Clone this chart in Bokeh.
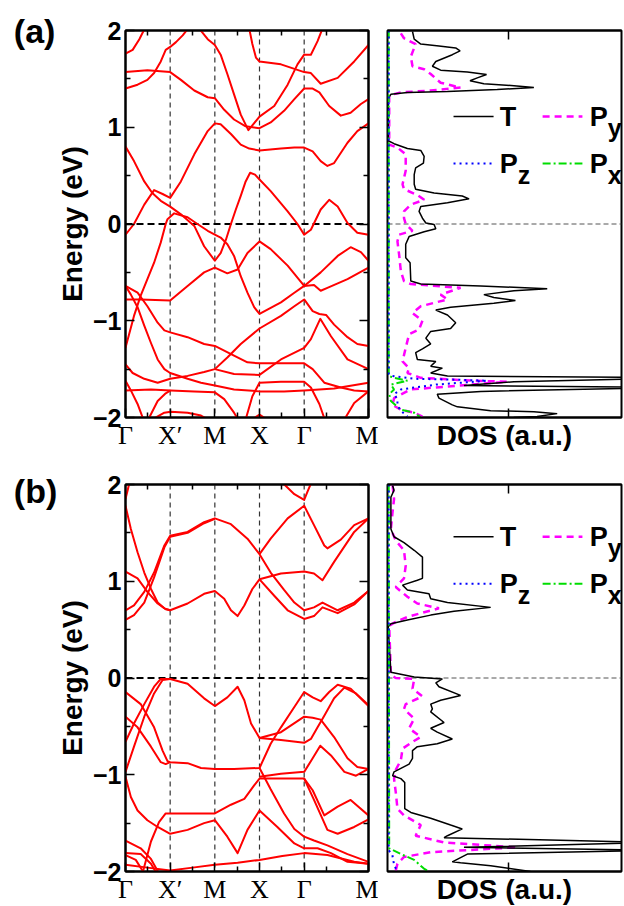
from bokeh.plotting import figure
from bokeh.models import Range1d, Span, Label, LinearAxis, FixedTicker
from bokeh.layouts import row, column
from bokeh.embed import file_html
from bokeh.resources import INLINE
from bokeh.core.properties import value

# ---------------- axes data ----------------
K_TICKS = [0.0, 1.0, 2.0, 3.0, 4.0, 5.44]
K_LABELS = ["Γ", "X′", "M", "X", "Γ", "M"]
K_MINOR = [0.5, 1.5, 2.5, 3.5, 4.5]
E_TICKS = [-2, -1, 0, 1, 2]
E_MINOR = [-1.5, -0.5, 0.5, 1.5]
DOS_TICKS = [5.0]
DOS_MAX = 9.64

# ---------------- band structure (a) ----------------
BANDS_A_K = [
    [0, 0.16, 0.31, 0.43],
    [0, 0.27, 0.49, 0.64, 0.79, 0.90, 1.0, 1.13, 1.28, 1.40],
    [1.65, 1.84, 2.0, 2.13, 2.28, 2.43, 2.58, 2.75, 2.84, 3.0, 3.33, 3.63, 3.85, 4.0, 4.15, 4.30, 4.41],
    [2.77, 2.84, 2.92, 3.0, 3.48, 4.0, 4.15, 4.37, 4.75, 5.12, 5.44],
    [0, 0.49, 1.0, 1.24, 1.54, 1.84, 2.0, 2.21, 2.43, 2.69, 3.0, 3.25, 3.55, 3.78, 4.0, 4.19, 4.34, 4.56, 4.82, 5.04, 5.27, 5.44],
    [0, 0.19, 0.42, 0.64, 0.83, 1.0, 1.24, 1.54, 1.84, 2.0, 2.13, 2.36, 2.58, 2.77, 3.0, 3.48, 3.78, 4.0, 4.19, 4.37, 4.52, 4.67, 4.97, 5.19, 5.44],
    [0, 0.19, 0.42, 0.60, 0.79, 1.0, 1.24, 1.54, 1.76, 2.0, 2.13, 2.25, 2.36, 2.47, 2.58, 2.69, 2.79, 2.90, 3.0, 3.25, 3.63, 3.85, 4.0, 4.15, 4.37, 4.56, 4.75, 4.97, 5.19, 5.44],
    [0, 0.19, 0.34, 0.49, 0.64, 0.79, 0.90, 0.94, 1.09, 1.39, 1.61, 1.84, 2.0, 2.13, 2.28, 2.43, 2.58, 2.73, 2.88, 3.0, 3.48, 3.78, 4.0, 4.22, 4.37, 4.52, 4.97, 5.44],
    [0, 0.34, 1.0, 1.39, 1.76, 2.0, 2.28, 2.51, 2.73, 3.0, 3.25, 3.63, 4.0, 4.37, 4.75, 5.04, 5.27, 5.44],
    [0, 0.12, 0.27, 0.42, 0.57, 0.72, 0.87, 1.0, 1.39, 1.69, 2.0, 2.43, 3.0, 3.55, 4.0, 4.67, 5.44],
    [0, 0.27, 0.49, 0.72, 0.87, 1.0, 1.39, 1.76, 2.0, 2.43, 2.73, 3.0, 4.0, 4.19, 4.45, 4.82, 5.12, 5.44],
    [0, 0.16, 0.42, 0.72, 1.0, 1.39, 1.76, 2.0, 2.28, 2.58, 3.0, 3.48, 3.78, 4.0, 4.19, 4.34, 4.49, 4.67, 4.97, 5.19, 5.44],
    [0, 0.57, 1.01, 1.54, 2.0, 2.21, 2.43, 2.52],
    [0, 0.12, 0.27, 0.40],
    [0.51, 0.72, 0.90, 1.01],
    [0.60, 0.87, 1.01, 1.39, 1.69, 1.84],
    [2.69, 2.84, 3.0, 3.48, 4.0, 4.15, 4.34, 4.46],
    [2.84, 3.0, 3.16],
    [2.0, 2.43, 3.0, 3.48, 4.0, 4.15, 4.36, 4.60, 4.97, 5.44],
    [4.90, 5.12, 5.44],
]
BANDS_A_E = [
    [1.76, 1.80, 1.91, 2.02],
    [1.40, 1.44, 1.49, 1.56, 1.68, 1.80, 1.83, 1.88, 1.95, 2.02],
    [2.02, 1.91, 1.85, 1.75, 1.55, 1.34, 1.13, 0.97, 1.02, 1.11, 1.22, 1.44, 1.65, 1.75, 1.75, 1.89, 2.02],
    [2.02, 1.86, 1.72, 1.68, 1.65, 1.57, 1.56, 1.45, 1.51, 1.68, 1.85],
    [1.57, 1.59, 1.57, 1.49, 1.38, 1.31, 1.30, 1.18, 1.08, 1.01, 0.99, 1.05, 1.17, 1.29, 1.40, 1.40, 1.36, 1.22, 1.12, 1.15, 1.24, 1.29],
    [-0.11, 0.0, 0.20, 0.35, 0.31, 0.27, 0.44, 0.72, 0.96, 1.04, 1.03, 0.93, 0.82, 0.78, 0.76, 0.78, 0.79, 0.79, 0.75, 0.65, 0.60, 0.63, 0.84, 0.96, 1.04],
    [0.80, 0.65, 0.44, 0.32, 0.24, 0.18, 0.10, -0.02, -0.23, -0.38, -0.30, -0.16, 0.0, 0.15, 0.29, 0.44, 0.53, 0.51, 0.46, 0.34, 0.13, 0.0, -0.11, -0.06, 0.15, 0.25, 0.18, 0.01, -0.09, -0.11],
    [-1.28, -0.95, -0.74, -0.57, -0.40, -0.19, 0.0, 0.05, 0.11, 0.07, 0.0, -0.07, -0.11, -0.14, -0.21, -0.33, -0.54, -0.71, -0.86, -0.93, -0.81, -0.71, -0.64, -0.63, -0.69, -0.66, -0.57, -0.45],
    [-0.78, -0.78, -0.79, -0.64, -0.50, -0.45, -0.51, -0.47, -0.30, -0.18, -0.26, -0.43, -0.64, -0.50, -0.33, -0.24, -0.29, -0.38],
    [-0.64, -0.73, -0.86, -1.05, -1.23, -1.40, -1.50, -1.54, -1.60, -1.64, -1.67, -1.71, -1.73, -1.73, -1.72, -1.70, -1.64],
    [-0.64, -0.71, -0.85, -1.02, -1.10, -1.12, -1.17, -1.24, -1.26, -1.36, -1.43, -1.44, -1.44, -1.50, -1.64, -1.69, -1.72, -1.73],
    [-1.45, -1.54, -1.60, -1.64, -1.60, -1.57, -1.53, -1.50, -1.38, -1.24, -1.08, -0.95, -0.85, -0.78, -0.90, -0.93, -0.94, -1.04, -1.17, -1.24, -1.26],
    [-1.72, -1.71, -1.72, -1.73, -1.74, -1.81, -1.95, -2.02],
    [-1.62, -1.72, -1.86, -2.02],
    [-2.02, -1.83, -1.75, -1.72],
    [-2.02, -1.95, -1.94, -1.95, -1.98, -2.02],
    [-2.02, -1.78, -1.64, -1.63, -1.63, -1.69, -1.86, -2.02],
    [-2.02, -1.97, -2.02],
    [-1.50, -1.55, -1.56, -1.40, -1.28, -1.19, -0.98, -1.16, -1.40, -1.50],
    [-2.02, -1.85, -1.73],
]

# ---------------- band structure (b) ----------------
BANDS_B_K = [
    [3.51, 3.78, 4.0, 4.07, 4.16],
    [0, 0.09],
    [0, 0.12, 0.27, 0.42, 0.57, 0.72, 0.87, 1.0, 1.39, 1.76, 2.0, 2.21, 2.36, 2.51, 2.66, 2.84, 3.0, 3.48, 4.0, 4.22, 4.41, 4.67, 5.12, 5.44],
    [0, 0.19, 0.42, 0.64, 0.87, 1.0, 1.39, 1.76, 2.0, 2.36, 2.73, 3.0, 3.25, 3.55, 3.78, 4.0, 4.22, 4.41, 4.75, 5.12, 5.44],
    [0, 0.19, 0.42, 0.64, 0.87, 1.0, 1.39, 1.76, 2.0],
    [3.0, 3.33, 3.63, 4.0, 4.22, 4.41, 4.75, 5.12, 5.44],
    [3.0, 3.25, 3.63, 4.0, 4.22, 4.45, 4.52, 4.82, 5.12, 5.44],
    [0, 0.27, 0.49, 0.72, 0.90, 1.0],
    [0, 0.34, 0.64, 0.83, 0.94, 1.0, 1.39, 1.69, 2.0, 2.43, 3.0, 3.25, 3.48, 3.78, 4.0, 4.19, 4.37, 4.56, 4.75, 5.04, 5.44],
    [0, 0.27, 0.57, 0.79, 0.90, 1.0],
    [0, 0.19, 0.42, 0.64, 0.79, 1.0, 1.39, 1.76, 2.0, 2.28, 2.51, 2.66, 2.81, 3.0, 3.48, 4.0, 4.19, 4.37, 4.67, 4.97, 5.19, 5.44],
    [0, 0.19, 0.42, 0.64, 0.83, 1.0],
    [3.0, 3.48, 4.0, 4.15, 4.30, 4.45, 4.67, 4.90, 5.16, 5.44],
    [3.0, 3.48, 4.0, 4.19, 4.36, 4.60, 4.90, 5.16, 5.44],
    [0.38, 0.57, 0.75, 0.90, 1.0, 1.39, 2.0, 2.36, 2.66, 2.88, 3.0, 3.48, 4.0, 4.19, 4.45, 4.75, 5.04, 5.44],
    [4.0, 4.22, 4.52, 4.75, 5.12, 5.44],
    [0, 0.12, 0.27, 0.49, 0.72, 1.0, 1.39, 1.76, 2.0, 2.28, 2.51, 2.73, 3.0, 3.40, 3.78, 4.0, 4.30, 4.60, 4.97, 5.44],
    [3.0, 3.25, 3.55, 3.78, 4.0, 4.22, 4.52, 4.97, 5.44],
    [0, 0.49, 1.0, 1.50, 2.0, 2.51, 3.0, 3.51, 4.0, 4.52, 5.12, 5.44],
    [0, 0.34, 0.57, 0.75],
    [0, 0.34, 0.57, 0.70],
    [0, 0.23, 0.42],
]
BANDS_B_E = [
    [2.02, 1.90, 1.84, 1.92, 2.02],
    [1.85, 2.02],
    [1.78, 1.54, 1.30, 1.09, 0.92, 0.78, 0.72, 0.70, 0.77, 0.87, 0.90, 0.82, 0.70, 0.64, 0.75, 0.92, 1.02, 1.08, 1.10, 1.08, 1.01, 1.20, 1.51, 1.65],
    [0.70, 0.75, 0.89, 1.09, 1.37, 1.47, 1.51, 1.61, 1.65, 1.59, 1.44, 1.28, 1.09, 0.91, 0.78, 0.70, 0.73, 0.78, 0.70, 0.78, 0.90],
    [0.60, 0.65, 0.78, 1.04, 1.35, 1.46, 1.50, 1.60, 1.645],
    [1.02, 0.85, 0.70, 0.61, 0.64, 0.73, 0.67, 0.76, 0.90],
    [1.28, 1.44, 1.65, 1.78, 1.58, 1.37, 1.34, 1.43, 1.58, 1.65],
    [1.10, 1.03, 0.89, 0.77, 0.71, 0.70],
    [-0.145, -0.27, -0.51, -0.75, -0.86, -0.87, -0.88, -0.93, -0.94, -0.94, -0.93, -0.68, -0.51, -0.30, -0.145, -0.20, -0.24, -0.145, -0.07, -0.11, -0.29],
    [-0.40, -0.51, -0.71, -0.87, -0.89, -0.87],
    [-0.66, -0.47, -0.27, -0.09, -0.01, -0.01, -0.06, -0.21, -0.29, -0.20, -0.09, -0.23, -0.47, -0.62, -0.56, -0.40, -0.41, -0.43, -0.61, -0.83, -0.92, -0.94],
    [-0.97, -0.71, -0.40, -0.16, -0.02, -0.01],
    [-0.62, -0.64, -0.67, -0.63, -0.51, -0.39, -0.21, -0.10, -0.16, -0.28],
    [-1.02, -0.99, -0.97, -0.83, -0.70, -0.80, -0.97, -1.01, -0.94],
    [-2.02, -1.69, -1.49, -1.40, -1.40, -1.40, -1.40, -1.31, -1.25, -1.11, -1.04, -1.04, -1.04, -1.16, -1.42, -1.33, -1.26, -1.42],
    [-1.04, -1.26, -1.57, -1.61, -1.54, -1.46],
    [-1.02, -1.23, -1.37, -1.47, -1.54, -1.61, -1.57, -1.50, -1.47, -1.64, -1.81, -1.57, -1.37, -1.54, -1.71, -1.76, -1.76, -1.81, -1.90, -1.92],
    [-0.93, -1.15, -1.40, -1.56, -1.64, -1.68, -1.73, -1.82, -1.90],
    [-1.93, -1.96, -1.99, -1.96, -1.93, -1.91, -1.88, -1.84, -1.81, -1.83, -1.90, -1.92],
    [-1.68, -1.76, -1.87, -2.02],
    [-1.81, -1.82, -1.92, -2.02],
    [-1.83, -1.88, -2.02],
]

# ---------------- DOS (a) ----------------
DOS_A_E_T = [1.99, 1.91, 1.86, 1.84, 1.82, 1.79, 1.75, 1.68, 1.63, 1.59, 1.57, 1.545, 1.51, 1.48, 1.45, 1.43, 1.41, 1.39, 1.37, 1.36, 1.34, 1.30,
             0.86, 0.83, 0.78, 0.76, 0.70, 0.63, 0.58, 0.51, 0.41, 0.36, 0.32, 0.29, 0.26, 0.22, 0.18, 0.13, 0.06, 0.01,
             -0.005, -0.05, -0.08, -0.13, -0.21, -0.35, -0.40, -0.59, -0.62, -0.64, -0.67, -0.69, -0.73, -0.76, -0.79, -0.82, -0.86, -0.89, -0.94,
             -1.02, -1.08, -1.11, -1.18, -1.24, -1.29, -1.33, -1.40, -1.42, -1.47, -1.49, -1.54, -1.57, -1.59, -1.63, -1.67, -1.69, -1.73,
             -1.76, -1.80, -1.87, -1.89, -1.93, -1.94, -1.96, -1.99, -2.0]
DOS_A_T = [1.03, 1.10, 1.37, 2.12, 2.81, 2.99, 2.67, 1.99, 1.85, 2.19, 3.29, 4.08, 3.70, 3.40, 3.97, 5.21, 6.03, 4.52, 2.47, 0.82, 0.14, 0.03,
           0.03, 0.27, 0.82, 1.37, 1.51, 1.48, 1.16, 1.10, 1.10, 1.16, 1.92, 3.08, 3.36, 2.47, 1.37, 1.30, 1.44, 1.58,
           1.92, 1.99, 1.51, 0.89, 0.75, 0.75, 0.93, 0.96, 1.37, 3.84, 6.58, 5.21, 3.97, 4.38, 5.27, 4.38, 2.60, 1.99, 2.47,
           2.81, 2.60, 1.78, 1.58, 1.78, 1.44, 1.16, 1.23, 1.99, 1.78, 2.26, 1.78, 2.47, 12.0, 5.21, 3.15, 12.0, 3.84,
           2.05, 2.12, 2.67, 2.88, 4.25, 6.03, 6.99, 6.16, 5.2]
DOS_A_E_PY = [1.97, 1.92, 1.86, 1.73, 1.63, 1.60, 1.55, 1.46, 1.41, 1.38, 1.36, 1.33,
              0.82, 0.79, 0.72, 0.55, 0.41, 0.36, 0.30, 0.25, 0.20, 0.13, 0.06, 0.0,
              -0.07, -0.11, -0.18, -0.32, -0.49, -0.59, -0.62, -0.66, -0.73, -0.78, -0.85, -0.92, -1.0, -1.09, -1.14,
              -1.28, -1.42, -1.49, -1.54, -1.59, -1.62, -1.63, -1.68, -1.71, -1.80, -1.87, -1.92, -1.95, -1.99]
DOS_A_PY = [0.55, 0.68, 1.16, 0.96, 1.03, 1.51, 1.78, 2.19, 3.01, 1.78, 0.55, 0.07,
            0.07, 0.41, 0.75, 0.75, 0.62, 0.68, 1.23, 1.51, 0.96, 0.68, 0.68, 0.75,
            1.03, 0.48, 0.41, 0.48, 0.55, 0.68, 0.96, 3.01, 2.19, 2.47, 1.37, 1.03, 1.44, 1.30, 0.89,
            0.75, 0.62, 0.89, 0.82, 1.37, 3.56, 4.93, 2.47, 0.96, 0.27, 0.21, 0.55, 1.10, 1.44]
DOS_A_E_PZ = [2.0, -1.55, -1.57, -1.60, -1.61, -1.62, -1.66, -1.69, -1.71, -1.76, -1.81, -1.87, -1.93, -1.99]
DOS_A_PZ = [0.05, 0.05, 0.14, 1.10, 3.0, 4.10, 2.0, 1.10, 0.55, 0.27, 0.41, 0.41, 0.55, 0.82]
DOS_A_E_PX = [2.0, -1.57, -1.59, -1.62, -1.66, -1.71, -1.76, -1.83, -1.92, -1.95, -2.0]
DOS_A_PX = [0.05, 0.05, 0.27, 0.82, 0.14, 0.27, 0.07, 0.14, 0.55, 1.10, 1.37]

# ---------------- DOS (b) ----------------
DOS_B_E_T = [1.99, 1.94, 1.87, 1.54, 1.46, 1.40, 1.32, 1.25, 1.03, 1.01, 0.96, 0.91, 0.87, 0.82, 0.78, 0.73, 0.69, 0.65, 0.60, 0.56, 0.53,
             0.06, 0.01,
             -0.01, -0.05, -0.09, -0.18, -0.23, -0.27, -0.32, -0.35, -0.46, -0.52, -0.56, -0.63, -0.68, -0.71, -0.75, -0.83, -0.89,
             -0.97, -1.01, -1.04, -1.08, -1.35, -1.39, -1.45, -1.52, -1.56, -1.63, -1.65, -1.70, -1.75, -1.78, -1.82, -1.90, -1.91, -1.94, -2.0]
DOS_B_T = [0.21, 0.27, 0.14, 0.14, 0.27, 0.68, 1.10, 1.44, 1.44, 1.23, 0.62, 0.82, 1.71, 1.78, 2.47, 4.25, 2.74, 1.78, 0.82, 0.14, 0.03,
           0.14, 1.10,
           2.26, 1.99, 2.12, 3.01, 2.19, 1.78, 1.85, 1.78, 2.33, 1.78, 2.05, 2.67, 2.05, 1.23, 1.03, 1.03, 0.89,
           0.27, 0.21, 0.55, 0.71, 0.71, 0.96, 1.78, 2.60, 3.08, 2.47, 2.33, 11.0, 3.15, 11.0, 3.29, 2.67, 3.01, 4.25, 5.89]
DOS_B_E_PY = [1.99, 1.85, 1.72, 1.54, 1.42, 1.32, 1.16, 1.03, 0.94, 0.84, 0.77, 0.72, 0.68, 0.63, 0.58, 0.54,
              0.03, 0.0,
              -0.01, -0.11, -0.19, -0.27, -0.32, -0.42, -0.52, -0.61, -0.66, -0.73, -0.85, -0.95, -1.04, -1.18,
              -1.35, -1.42, -1.52, -1.63, -1.70, -1.75, -1.80, -1.85, -1.92, -1.99]
DOS_B_PY = [0.21, 0.27, 0.21, 0.14, 0.34, 0.68, 0.75, 0.68, 0.34, 0.82, 1.23, 2.12, 1.51, 0.82, 0.34, 0.07,
            0.14, 0.34,
            1.10, 1.03, 1.44, 0.75, 0.68, 1.10, 0.89, 1.37, 1.03, 0.62, 0.55, 0.34, 0.27, 0.34,
            0.41, 0.68, 1.37, 1.16, 2.33, 5.34, 1.78, 0.68, 0.41, 0.34]
DOS_B_E_PZ = [2.0, -1.78, -1.83, -1.93, -2.0]
DOS_B_PZ = [0.05, 0.05, 0.20, 0.27, 0.40]
DOS_B_E_PX = [2.0, -1.76, -1.82, -1.88, -1.97, -2.0]
DOS_B_PX = [0.05, 0.07, 0.55, 1.10, 1.50, 1.70]

# legend rows (energy of the two legend rows in each DOS panel)
LEGEND_ROWS_A = [1.11, 0.625]
LEGEND_ROWS_B = [1.46, 0.975]

SANS = "Liberation Sans"
SERIF = "Liberation Serif"


def ticks_in(ax):
    ax.axis_line_width = 2
    ax.major_tick_in = 9
    ax.major_tick_out = 0
    ax.minor_tick_in = 5
    ax.minor_tick_out = 0
    ax.major_tick_line_width = 1.5
    ax.minor_tick_line_width = 1.5


def blank_axis(ticks, minor):
    ax = LinearAxis(ticker=FixedTicker(ticks=ticks, minor_ticks=minor),
                    major_label_overrides={t: "" for t in ticks},
                    major_label_text_font_size="1px", major_label_standoff=0)
    ticks_in(ax)
    return ax


def band_panel(ks, es, tag, tag_y, top, bottom):
    p = figure(frame_width=243, frame_height=387,
               x_range=Range1d(K_TICKS[0], K_TICKS[-1]), y_range=Range1d(E_TICKS[0], E_TICKS[-1]),
               output_backend="svg", toolbar_location=None,
               min_border_left=125, min_border_right=10, min_border_top=top, min_border_bottom=bottom)
    p.grid.visible = False
    p.outline_line_color = "black"
    p.outline_line_width = 2
    for k in K_TICKS[1:-1]:
        p.add_layout(Span(location=k, dimension="height", line_color="#333333",
                          line_dash="5 4", line_width=1.2, level="underlay"))
    p.add_layout(Span(location=0, dimension="width", line_color="black",
                      line_dash="7 4", line_width=2, level="underlay"))
    p.multi_line(xs=ks, ys=es, line_color="#ff0000", line_width=2, line_join="round")

    xa = p.below[0]
    xa.ticker = FixedTicker(ticks=K_TICKS, minor_ticks=K_MINOR)
    xa.major_label_overrides = {k: lab for k, lab in zip(K_TICKS, K_LABELS)}
    xa.major_label_text_font = SERIF
    xa.major_label_text_font_size = "26px"
    xa.major_label_text_color = "black"
    xa.major_label_standoff = 3
    ticks_in(xa)

    ya = p.left[0]
    ya.ticker = FixedTicker(ticks=E_TICKS, minor_ticks=E_MINOR)
    ya.major_label_text_font = SANS
    ya.major_label_text_font_style = "bold"
    ya.major_label_text_font_size = "25px"
    ya.major_label_text_color = "black"
    ya.major_label_standoff = 4
    ya.axis_label = "Energy (eV)"
    ya.axis_label_text_font = SANS
    ya.axis_label_text_font_style = "bold"
    ya.axis_label_text_font_size = "28px"
    ya.axis_label_text_color = "black"
    ya.axis_label_standoff = 2
    ticks_in(ya)

    p.add_layout(blank_axis(E_TICKS, E_MINOR), "right")
    ta = blank_axis(K_TICKS, K_MINOR)
    ta.major_tick_in = 0
    p.add_layout(ta, "above")

    # panel tag, drawn at overlay level so it is not clipped to the frame
    p.text(x=[-2.5], y=[tag_y], text=[tag], text_font=value(SANS), text_font_style="bold",
           text_font_size="34px", text_baseline="middle", text_align="left",
           text_color="black", level="overlay")
    return p


def dos_panel(tv, te, pyv, pye, pzv, pze, pxv, pxe, rows, top, bottom):
    d = figure(frame_width=234, frame_height=387,
               x_range=Range1d(0, DOS_MAX), y_range=Range1d(E_TICKS[0], E_TICKS[-1]),
               output_backend="svg", toolbar_location=None, y_axis_location=None,
               min_border_left=9, min_border_right=3, min_border_top=top, min_border_bottom=bottom)
    d.grid.visible = False
    d.outline_line_color = "black"
    d.outline_line_width = 2
    d.add_layout(Span(location=0, dimension="width", line_color="#555555",
                      line_dash="5 3", line_width=1, level="underlay"))
    d.line(pyv, pye, line_color="#ff00ff", line_width=2.5, line_dash="7 5")
    d.line(tv, te, line_color="black", line_width=1.5)
    d.line(pxv, pxe, line_color="#00dd00", line_width=2, line_dash="8 3 2 3")
    d.line(pzv, pze, line_color="#0000ff", line_width=2, line_dash="2 4")

    xa = d.below[0]
    xa.ticker = FixedTicker(ticks=DOS_TICKS, minor_ticks=[])
    xa.major_label_overrides = {t: "" for t in DOS_TICKS}
    xa.major_label_text_font_size = "1px"
    xa.major_label_standoff = 0
    xa.axis_label = "DOS (a.u.)"
    xa.axis_label_text_font = SANS
    xa.axis_label_text_font_style = "bold"
    xa.axis_label_text_font_size = "28px"
    xa.axis_label_text_color = "black"
    xa.axis_label_standoff = 2
    ticks_in(xa)
    d.add_layout(blank_axis(DOS_TICKS, []), "above")

    # legend (drawn by hand so the subscripts can be real text)
    col_line = [(2.72, 4.37), (6.39, 8.03)]
    col_text = [4.62, 8.33]
    entries = [
        (0, 0, "T", "", dict(line_color="black", line_width=1.5)),
        (0, 1, "P", "y", dict(line_color="#ff00ff", line_width=2.5, line_dash="7 5")),
        (1, 0, "P", "z", dict(line_color="#0000ff", line_width=2, line_dash="2 4")),
        (1, 1, "P", "x", dict(line_color="#00dd00", line_width=2, line_dash="8 3 2 3")),
    ]
    for r, c, main, sub, style in entries:
        y = rows[r]
        d.line(list(col_line[c]), [y, y], **style)
        d.add_layout(Label(x=col_text[c], y=y, text=main, text_font=SANS, text_font_style="bold",
                           text_font_size="27px", text_baseline="middle", text_align="left",
                           text_color="black"))
        if sub:
            d.add_layout(Label(x=col_text[c], y=y, x_offset=18, y_offset=-11, text=sub, text_font=SANS,
                               text_font_style="bold", text_font_size="25px",
                               text_baseline="middle", text_align="left", text_color="black"))
    return d


fa = band_panel(BANDS_A_K, BANDS_A_E, "(a)", 2.0, 30, 30)
da = dos_panel(DOS_A_T, DOS_A_E_T, DOS_A_PY, DOS_A_E_PY, DOS_A_PZ, DOS_A_E_PZ, DOS_A_PX, DOS_A_E_PX,
               LEGEND_ROWS_A, 30, 30)
fb = band_panel(BANDS_B_K, BANDS_B_E, "(b)", 1.93, 31, 30)
db = dos_panel(DOS_B_T, DOS_B_E_T, DOS_B_PY, DOS_B_E_PY, DOS_B_PZ, DOS_B_E_PZ, DOS_B_PX, DOS_B_E_PX,
               LEGEND_ROWS_B, 31, 30)

layout = column(row(fa, da), row(fb, db))
open("out.html", "w").write(file_html(layout, INLINE, "Band structure and DOS"))
